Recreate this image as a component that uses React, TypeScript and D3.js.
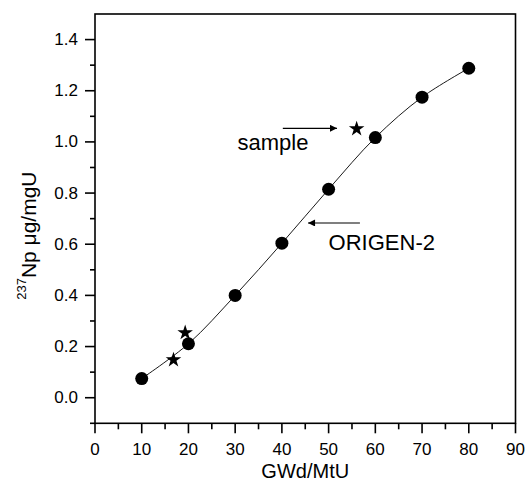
import React, { useRef, useEffect } from "react";
import * as d3 from "d3";

// ORIGEN-2 calculation (circles + line)
const burnup = [10, 20, 30, 40, 50, 60, 70, 80];
const npCalc = [0.075, 0.211, 0.4, 0.604, 0.815, 1.017, 1.175, 1.288];

// measured samples (stars)
const sampleBurnup = [16.8, 19.3, 56.0];
const sampleNp = [0.148, 0.254, 1.051];

const xTicks = [0, 10, 20, 30, 40, 50, 60, 70, 80, 90];
const yTicks = [0.0, 0.2, 0.4, 0.6, 0.8, 1.0, 1.2, 1.4];

const FONT = "'Liberation Sans', Arial, sans-serif";

const App = () => {
  const svgRef = useRef<SVGSVGElement | null>(null);

  useEffect(() => {
    const width = 528;
    const height = 486;
    const margin = { top: 14, right: 12.5, bottom: 62.7, left: 95 };

    const svg = d3.select(svgRef.current);
    svg.selectAll("*").remove();
    svg.attr("width", width).attr("height", height);

    const x = d3.scaleLinear().domain([0, 90]).range([margin.left, width - margin.right]);
    const y = d3.scaleLinear().domain([-0.1, 1.5]).range([height - margin.bottom, margin.top]);

    const x0 = x(0), x1 = x(90), y0 = y(-0.1), y1 = y(1.5);

    // frame
    svg.append("rect")
      .attr("x", x0).attr("y", y1)
      .attr("width", x1 - x0).attr("height", y0 - y1)
      .attr("fill", "none").attr("stroke", "#000").attr("stroke-width", 1.6);

    // x axis ticks
    const xMinor = d3.range(0, 91, 5);
    svg.append("g").selectAll("line").data(xMinor).enter().append("line")
      .attr("x1", d => x(d)).attr("x2", d => x(d))
      .attr("y1", y0).attr("y2", d => y0 + (d % 10 === 0 ? 10 : 6))
      .attr("stroke", "#000").attr("stroke-width", 1.6);
    svg.append("g").selectAll("text").data(xTicks).enter().append("text")
      .attr("x", d => x(d)).attr("y", y0 + 26)
      .attr("text-anchor", "middle").attr("dominant-baseline", "central")
      .attr("font-family", FONT).attr("font-size", 17)
      .text(d => d);

    // y axis ticks
    const yMinor = d3.range(-1, 15).map(i => i / 10);
    svg.append("g").selectAll("line").data(yMinor).enter().append("line")
      .attr("y1", d => y(d)).attr("y2", d => y(d))
      .attr("x1", x0).attr("x2", d => x0 - (Math.round(d * 10) % 2 === 0 ? 10 : 5))
      .attr("stroke", "#000").attr("stroke-width", 1.6);
    svg.append("g").selectAll("text").data(yTicks).enter().append("text")
      .attr("x", x0 - 17).attr("y", d => y(d))
      .attr("text-anchor", "end").attr("dominant-baseline", "central")
      .attr("font-family", FONT).attr("font-size", 17)
      .text(d => d.toFixed(1));

    // axis titles
    svg.append("text")
      .attr("x", (x0 + x1) / 2).attr("y", 471)
      .attr("text-anchor", "middle").attr("dominant-baseline", "central")
      .attr("font-family", FONT).attr("font-size", 20)
      .text("GWd/MtU");

    const yt = svg.append("text")
      .attr("transform", `translate(28,${(y0 + y1) / 2 + 17}) rotate(-90)`)
      .attr("text-anchor", "middle").attr("dominant-baseline", "central")
      .attr("font-family", FONT).attr("font-size", 21);
    yt.append("tspan").attr("font-size", 13).attr("dy", -7).text("237");
    yt.append("tspan").attr("dy", 7).text("Np \u03bcg/mgU");

    // line through calculated points
    const pts: [number, number][] = burnup.map((b, i) => [b, npCalc[i]]);
    const line = d3.line<[number, number]>()
      .x(d => x(d[0])).y(d => y(d[1]))
      .curve(d3.curveCatmullRom.alpha(0.5));
    svg.append("path")
      .attr("d", line(pts))
      .attr("fill", "none").attr("stroke", "#000").attr("stroke-width", 0.9);

    svg.append("g").selectAll("circle").data(pts).enter().append("circle")
      .attr("cx", d => x(d[0])).attr("cy", d => y(d[1])).attr("r", 6.5)
      .attr("fill", "#000");

    // sample stars
    const star = d3.symbol().type(d3.symbolStar).size(75);
    svg.append("g").selectAll("path").data(sampleBurnup).enter().append("path")
      .attr("transform", (d, i) => `translate(${x(d)},${y(sampleNp[i])})`)
      .attr("d", star)
      .attr("fill", "#000");

    // annotations
    const defs = svg.append("defs");
    defs.append("marker")
      .attr("id", "ah").attr("viewBox", "0 0 10 10")
      .attr("refX", 10).attr("refY", 5)
      .attr("markerWidth", 13).attr("markerHeight", 7)
      .attr("markerUnits", "userSpaceOnUse")
      .attr("orient", "auto")
      .append("path").attr("d", "M0,0 L10,5 L0,10 z").attr("fill", "#000");

    svg.append("line")
      .attr("x1", x(40.2)).attr("x2", x(51.8))
      .attr("y1", y(1.053)).attr("y2", y(1.053))
      .attr("stroke", "#000").attr("stroke-width", 1.2)
      .attr("marker-end", "url(#ah)");
    svg.append("text")
      .attr("x", x(38.1)).attr("y", y(0.968))
      .attr("text-anchor", "middle")
      .attr("font-family", FONT).attr("font-size", 22)
      .text("sample");

    svg.append("line")
      .attr("x1", x(56.7)).attr("x2", x(45.6))
      .attr("y1", y(0.683)).attr("y2", y(0.683))
      .attr("stroke", "#000").attr("stroke-width", 1.2)
      .attr("marker-end", "url(#ah)");
    svg.append("text")
      .attr("x", x(50.0)).attr("y", y(0.578))
      .attr("text-anchor", "start")
      .attr("font-family", FONT).attr("font-size", 22)
      .text("ORIGEN-2");
  }, []);

  return (
    <svg
      ref={svgRef}
      style={{ position: "absolute", left: 0, top: 0, display: "block", background: "#fff" }}
    ></svg>
  );
};

export default App;
